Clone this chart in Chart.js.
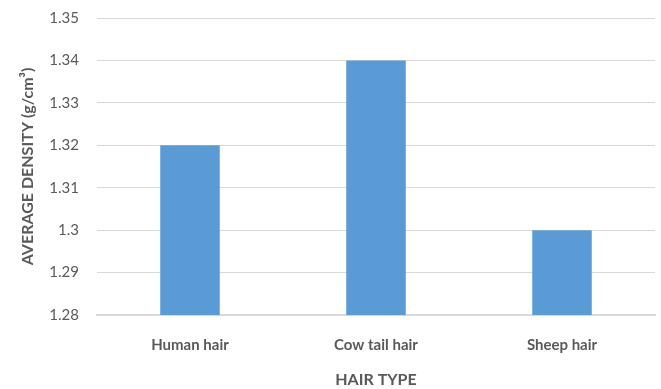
<!DOCTYPE html>
<html>
<head>
<meta charset="utf-8">
<script src="https://cdn.jsdelivr.net/npm/chart.js@4/dist/chart.umd.min.js"></script>
<style>
  html, body { margin: 0; padding: 0; background: #fff; }
  #wrap { width: 661px; height: 389px; }
</style>
</head>
<body>
<div id="wrap"><canvas id="c" width="661" height="389"></canvas></div>
<script>
// Average density per hair type
const hairTypes = ['Human hair', 'Cow tail hair', 'Sheep hair'];
const densities = [1.32, 1.34, 1.30];
const yTicks = [1.28, 1.29, 1.30, 1.31, 1.32, 1.33, 1.34, 1.35];

const textColor = '#595959';
const fontFamily = 'Lato, "Open Sans", sans-serif';

new Chart(document.getElementById('c'), {
  type: 'bar',
  data: {
    labels: hairTypes,
    datasets: [{
      data: densities,
      backgroundColor: '#5B9BD5',
      borderWidth: 0,
      barPercentage: 0.64,
      categoryPercentage: 0.5
    }]
  },
  options: {
    responsive: false,
    animation: false,
    devicePixelRatio: 1,
    layout: { padding: { top: 18, right: 6, bottom: 0, left: 18 } },
    plugins: { legend: { display: false }, tooltip: { enabled: false } },
    scales: {
      x: {
        grid: { display: false, drawTicks: false },
        border: { display: true, color: '#D9D9D9', width: 2 },
        ticks: {
          color: textColor,
          padding: 21,
          font: { family: fontFamily, size: 15, weight: 'bold' }
        },
        title: {
          display: true,
          text: 'HAIR TYPE',
          color: textColor,
          padding: { top: 19, bottom: 0 },
          font: { family: fontFamily, size: 16, weight: 'bold' }
        },
        afterFit: (s) => { s.height = 74; }
      },
      y: {
        min: 1.28,
        max: 1.35,
        afterBuildTicks: (s) => { s.ticks = yTicks.map(v => ({ value: v })); },
        grid: { color: '#D9D9D9', lineWidth: 1, drawTicks: false },
        border: { display: false },
        ticks: {
          color: textColor,
          padding: 18,
          font: { family: fontFamily, size: 15 },
          callback: (v) => String(+v.toFixed(2))
        },
        title: {
          display: true,
          text: 'AVERAGE DENSITY (g/cm³)',
          color: textColor,
          padding: { top: 0, bottom: 6 },
          font: { family: fontFamily, size: 16, weight: 'bold' }
        },
        afterFit: (s) => {
          s.width = 79;
          s.paddingTop = 0;
          s.paddingBottom = 0;
        }
      }
    }
  }
});
</script>
</body>
</html>
